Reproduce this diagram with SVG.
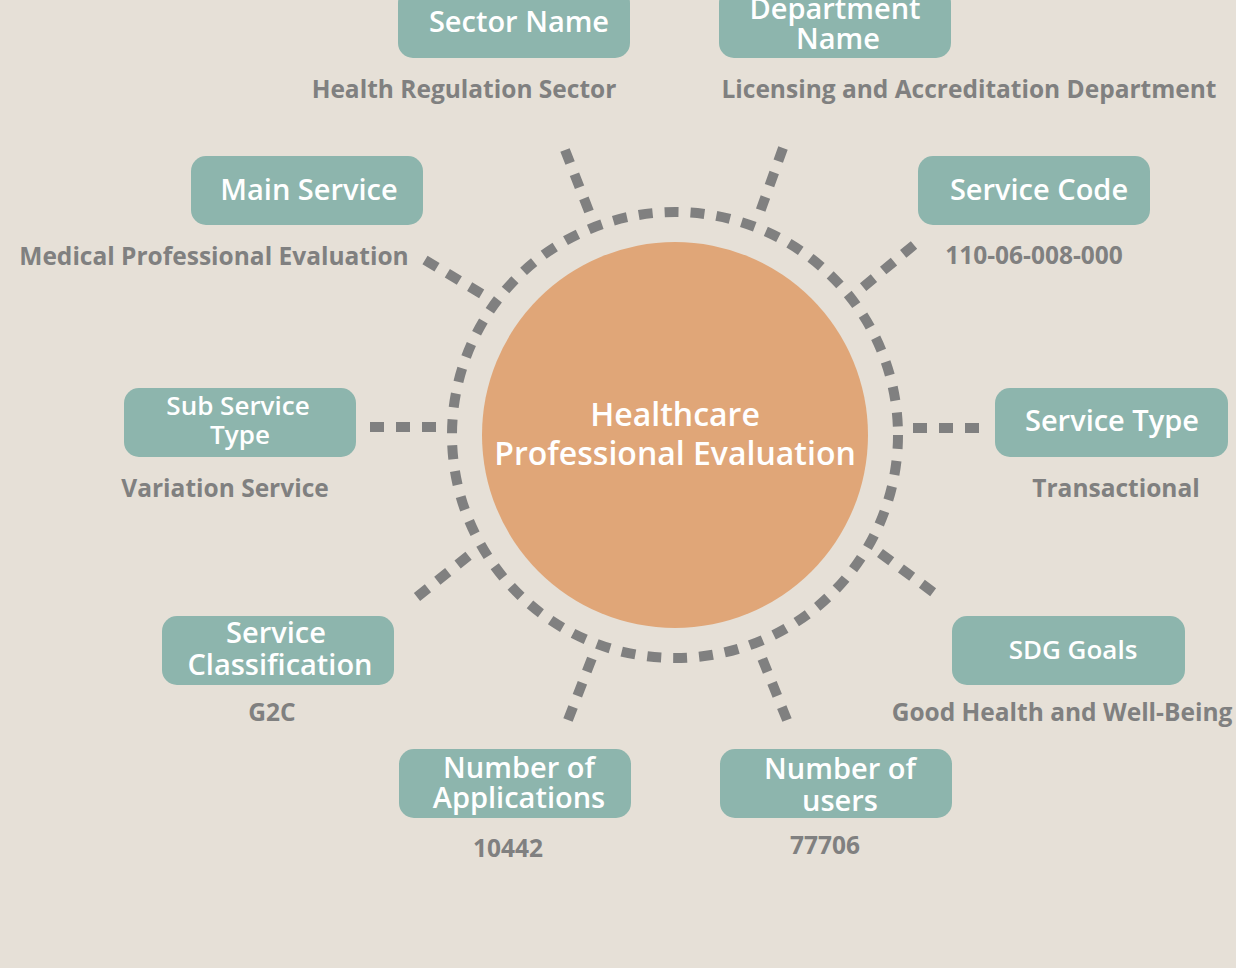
<svg xmlns="http://www.w3.org/2000/svg" width="1236" height="968" viewBox="0 0 1236 968">
<style>
.box{fill:#8DB5AD}
.bt{fill:#fff;font-family:"Open Sans","Noto Sans",sans-serif;font-weight:600;font-size:29px;text-anchor:middle}
.lb{fill:#808080;font-family:"Open Sans","Noto Sans",sans-serif;font-weight:700;font-size:24.5px;text-anchor:middle}
.ct{fill:#fff;font-family:"Open Sans","Noto Sans",sans-serif;font-weight:600;font-size:32px;text-anchor:middle}
.dash{stroke:#808080;stroke-width:10;stroke-dasharray:14 12;fill:none}
</style>
<rect width="1236" height="968" fill="#E6E0D7"/>
<g id="connectors">
<circle class="dash" cx="675" cy="435" r="223"/>
<line class="dash" x1="565" y1="150" x2="590" y2="214"/>
<line class="dash" x1="783" y1="148" x2="760" y2="212"/>
<line class="dash" x1="914" y1="245" x2="862" y2="288"/>
<line class="dash" x1="425" y1="260" x2="492" y2="300"/>
<line class="dash" x1="370" y1="427" x2="446" y2="427"/>
<line class="dash" x1="913" y1="428" x2="985" y2="428"/>
<line class="dash" x1="417" y1="597" x2="472" y2="553"/>
<line class="dash" x1="880" y1="553" x2="937" y2="595"/>
<line class="dash" x1="568" y1="720" x2="592" y2="658"/>
<line class="dash" x1="787" y1="720" x2="762" y2="658"/>
</g>
<g id="center">
<circle cx="675" cy="435" r="193" fill="#E0A678"/>
<text class="ct" x="675" y="426">Healthcare</text>
<text class="ct" x="675" y="465">Professional Evaluation</text>
</g>
<g id="sector">
<rect class="box" x="398" y="-12" width="232" height="70" rx="15"/>
<text class="bt" x="519" y="32">Sector Name</text>
<text class="lb" x="464" y="98">Health Regulation Sector</text>
</g>
<g id="department">
<rect class="box" x="719" y="-12" width="232" height="70" rx="15"/>
<text class="bt" x="835" y="19">Department</text>
<text class="bt" x="838" y="49">Name</text>
<text class="lb" x="969" y="98">Licensing and Accreditation Department</text>
</g>
<g id="main-service">
<rect class="box" x="191" y="156" width="232" height="69" rx="15"/>
<text class="bt" x="309" y="200">Main Service</text>
<text class="lb" x="214" y="265">Medical Professional Evaluation</text>
</g>
<g id="service-code">
<rect class="box" x="918" y="156" width="232" height="69" rx="15"/>
<text class="bt" x="1039" y="200">Service Code</text>
<text class="lb" x="1034" y="264">110-06-008-000</text>
</g>
<g id="sub-service-type">
<rect class="box" x="124" y="388" width="232" height="69" rx="15"/>
<text class="bt" x="238" y="415" style="font-size:26px">Sub Service</text>
<text class="bt" x="240" y="444" style="font-size:26px">Type</text>
<text class="lb" x="225" y="497">Variation Service</text>
</g>
<g id="service-type">
<rect class="box" x="995" y="388" width="233" height="69" rx="15"/>
<text class="bt" x="1112" y="431">Service Type</text>
<text class="lb" x="1116" y="497">Transactional</text>
</g>
<g id="service-classification">
<rect class="box" x="162" y="616" width="232" height="69" rx="15"/>
<text class="bt" x="276" y="643">Service</text>
<text class="bt" x="280" y="675">Classification</text>
<text class="lb" x="272" y="721">G2C</text>
</g>
<g id="sdg-goals">
<rect class="box" x="952" y="616" width="233" height="69" rx="15"/>
<text class="bt" x="1073" y="659" style="font-size:26px">SDG Goals</text>
<text class="lb" x="1062" y="721">Good Health and Well-Being</text>
</g>
<g id="applications">
<rect class="box" x="399" y="749" width="232" height="69" rx="15"/>
<text class="bt" x="519" y="778">Number of</text>
<text class="bt" x="519" y="808">Applications</text>
<text class="lb" x="508" y="857">10442</text>
</g>
<g id="users">
<rect class="box" x="720" y="749" width="232" height="69" rx="15"/>
<text class="bt" x="840" y="779">Number of</text>
<text class="bt" x="840" y="811">users</text>
<text class="lb" x="825" y="854">77706</text>
</g>
</svg>
